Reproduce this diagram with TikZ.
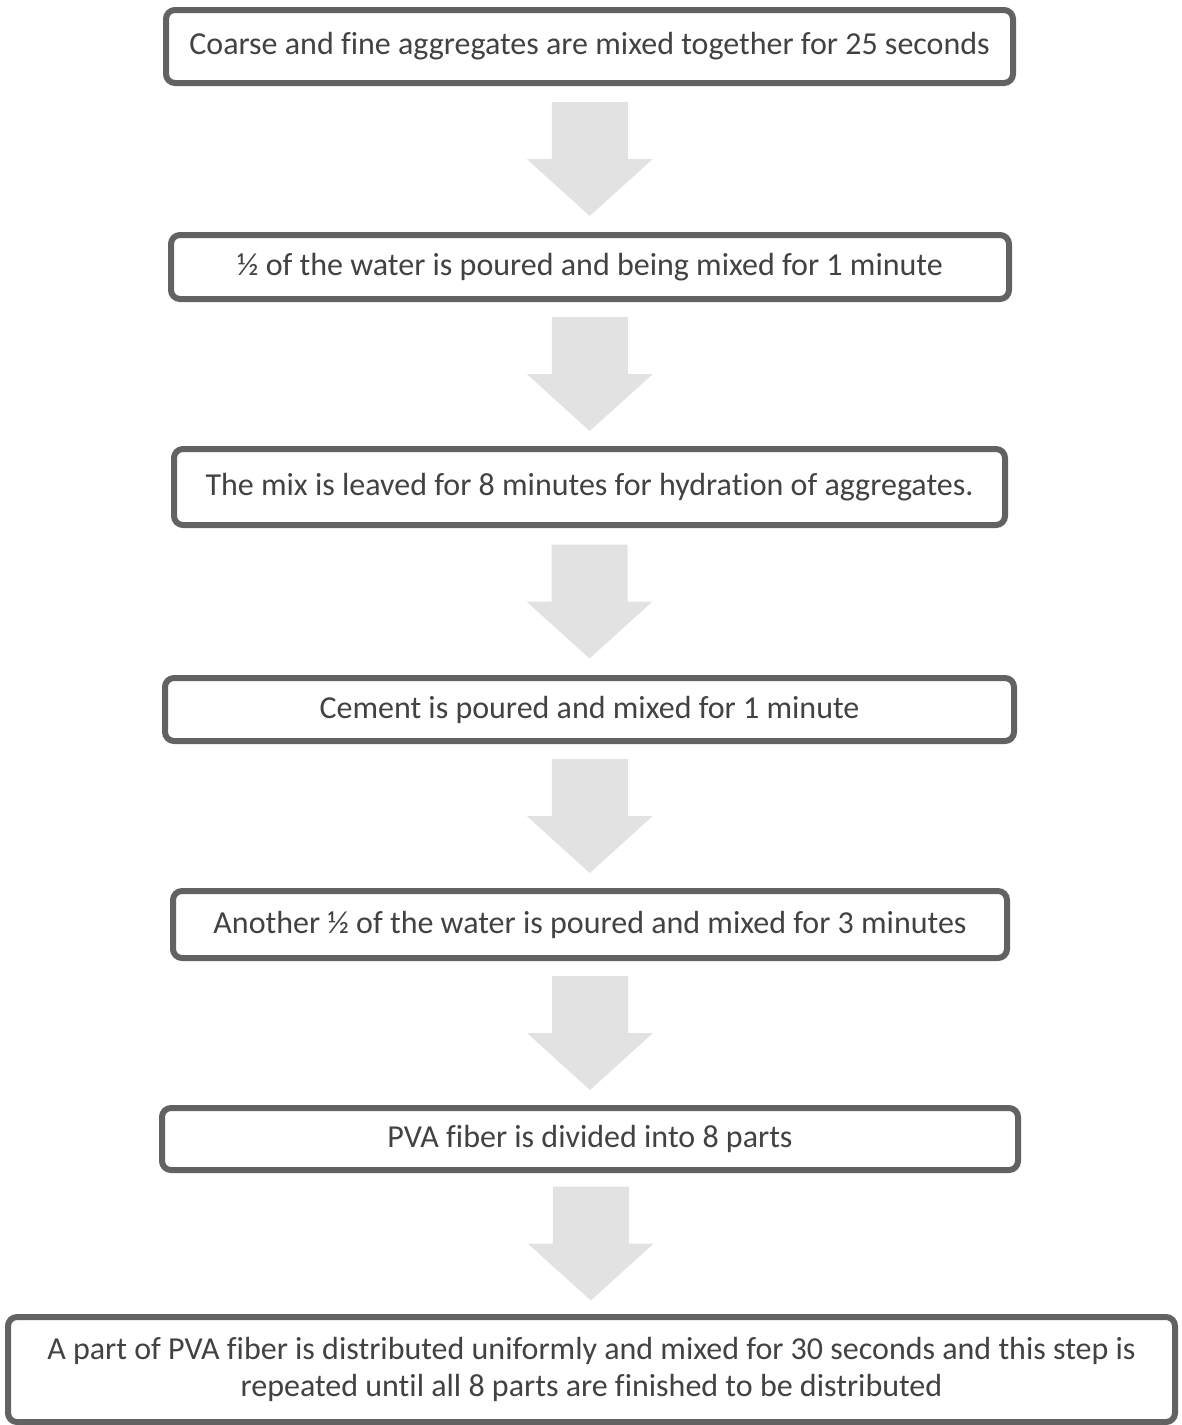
\documentclass[tikz,border=0pt]{standalone}
\usepackage{fontspec}
\setmainfont{Carlito}[Ligatures=NoCommon]
\usetikzlibrary{calc}
\definecolor{boxline}{RGB}{98,98,98}
\definecolor{txt}{RGB}{66,66,66}
\definecolor{arrowfill}{RGB}{226,226,226}
\tikzset{
  stepbox/.style={draw=boxline, line width=6pt, rounded corners=9pt, fill=white,
    inner sep=0pt, align=center, text=txt,
    font=\fontsize{32}{37}\selectfont},
}
\newcommand{\flowarrow}[2]{%
  \path ($(#1.south)!0.5!(#2.north)$) coordinate (m#1#2);
  \fill[arrowfill] ($(m#1#2)+(-38,-57)$) -- ($(m#1#2)+(38,-57)$) -- ($(m#1#2)+(38,0)$)
    -- ($(m#1#2)+(63,0)$) -- ($(m#1#2)+(0,57)$) -- ($(m#1#2)+(-63,0)$)
    -- ($(m#1#2)+(-38,0)$) -- cycle;}
\begin{document}
\begin{tikzpicture}[x=1pt,y=-1pt]
\useasboundingbox (0,0) rectangle (1182,1425);
\node[stepbox, minimum width=847pt, minimum height=73pt] (s1) at (589.5,46.5)
  {Coarse and fine aggregates are mixed together for 25 seconds};
\node[stepbox, minimum width=838pt, minimum height=64pt] (s2) at (590,267)
  {½ of the water is poured and being mixed for 1 minute};
\node[stepbox, minimum width=831pt, minimum height=76pt] (s3) at (589.5,487)
  {The mix is leaved for 8 minutes for hydration of aggregates.};
\node[stepbox, minimum width=849pt, minimum height=63pt] (s4) at (589.5,709.5)
  {Cement is poured and mixed for 1 minute};
\node[stepbox, minimum width=834pt, minimum height=67pt] (s5) at (590,924.5)
  {Another ½ of the water is poured and mixed for 3 minutes};
\node[stepbox, minimum width=856pt, minimum height=62pt] (s6) at (590,1139)
  {PVA fiber is divided into 8 parts};
\node[stepbox, minimum width=1167pt, minimum height=105pt] (s7) at (591.5,1369.5)
  {\rule{0pt}{8pt}A part of PVA fiber is distributed uniformly and mixed for 30 seconds and this step is\\repeated until all 8 parts are finished to be distributed};
\flowarrow{s1}{s2}
\flowarrow{s2}{s3}
\flowarrow{s3}{s4}
\flowarrow{s4}{s5}
\flowarrow{s5}{s6}
\flowarrow{s6}{s7}
\end{tikzpicture}
\end{document}
